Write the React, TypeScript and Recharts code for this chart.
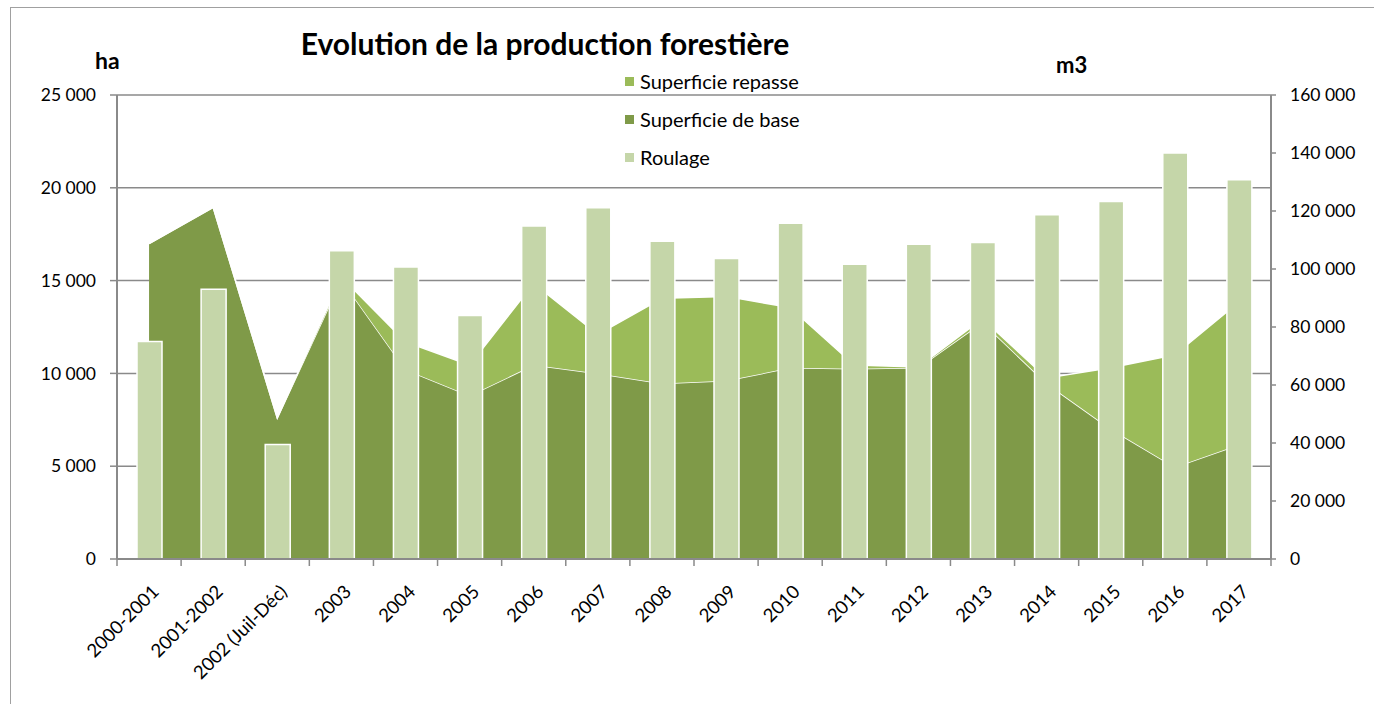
import React from 'react';
import {
  ComposedChart,
  Area,
  Bar,
  XAxis,
  YAxis,
  CartesianGrid,
  Legend,
} from 'recharts';

const categories = [
  '2000-2001', '2001-2002', '2002 (Juil-Déc)', '2003', '2004', '2005', '2006', '2007', '2008',
  '2009', '2010', '2011', '2012', '2013', '2014', '2015', '2016', '2017',
];

// ha
const superficieBase = [
  17000, 18950, 7600, 15050, 10200, 8800, 10450, 10000, 9450,
  9600, 10300, 10250, 10300, 12750, 9450, 7000, 4950, 6150,
];
const superficieRepasse = [
  0, 0, 0, 150, 1500, 1650, 4400, 2100, 4600,
  4550, 3250, 200, 50, 200, 300, 3300, 6050, 7700,
];

// m3
const roulage = [
  75000, 93000, 39500, 106300, 100700, 84000, 114800, 121100, 109600,
  103600, 115800, 101600, 108500, 109100, 118700, 123300, 140000, 130800,
];

const leftTicks = [0, 5000, 10000, 15000, 20000, 25000];
const rightTicks = [0, 20000, 40000, 60000, 80000, 100000, 120000, 140000, 160000];

const legendOrder = ['repasse', 'base', 'roulage'];

const data = categories.map((cat, i) => ({
  cat,
  base: superficieBase[i],
  repasse: superficieRepasse[i],
  roulage: roulage[i],
}));

const COLORS: Record<string, string> = {
  base: '#7f9a48',
  repasse: '#9bbb59',
  roulage: '#c5d6a9',
};

const AXIS = '#8a8a8a';
const PLOT_LEFT = 117;
const PLOT_RIGHT = 1271;
const HALF_BAND = (PLOT_RIGHT - PLOT_LEFT) / categories.length / 2;

const fmt = (v: number) => String(v).replace(/\B(?=(\d{3})+(?!\d))/g, ' ');

const XTick = (props: any) => {
  const { x, y, payload, index } = props;
  const tx = x + 11;
  const ty = y + 34;
  return (
    <g>
      <line x1={x - HALF_BAND} x2={x - HALF_BAND} y1={y} y2={y + 7} stroke={AXIS} strokeWidth={1.5} />
      {index === categories.length - 1 && (
        <line x1={x + HALF_BAND} x2={x + HALF_BAND} y1={y} y2={y + 7} stroke={AXIS} strokeWidth={1.5} />
      )}
      <text x={tx} y={ty} textAnchor="end" fontSize={18.5} fill="#000" transform={`rotate(-45 ${tx} ${ty})`}>
        {payload.value}
      </text>
    </g>
  );
};

const LegendContent = (props: any) => {
  const items = [...(props.payload || [])].sort(
    (a: any, b: any) => legendOrder.indexOf(a.dataKey) - legendOrder.indexOf(b.dataKey)
  );
  return (
    <div>
      {items.map((it: any) => (
        <div key={it.dataKey} style={{ height: 38, lineHeight: '38px', display: 'flex', alignItems: 'center', fontSize: 20, color: '#000' }}>
          <span style={{ width: 9, height: 9, background: COLORS[it.dataKey], marginRight: 6, display: 'inline-block' }} />
          {it.value}
        </div>
      ))}
    </div>
  );
};

export default function App() {
  return (
    <div style={{ position: 'absolute', left: 0, top: 0, width: 1374, height: 704, overflow: 'hidden', background: '#fff', fontFamily: 'Lato, sans-serif' }}>
      <div style={{ position: 'absolute', left: 10, top: 7, width: 1400, height: 760, border: '1px solid #a0a0a0' }} />
      <div style={{ position: 'absolute', left: 245, top: 25, width: 600, textAlign: 'center', fontSize: 30, fontWeight: 700, lineHeight: '36px' }}>
        Evolution de la production forestière
      </div>
      <div style={{ position: 'absolute', left: 95, top: 46, fontSize: 23, fontWeight: 700 }}>ha</div>
      <div style={{ position: 'absolute', left: 1056, top: 51, fontSize: 22, fontWeight: 700 }}>m3</div>
      <ComposedChart
        width={1374}
        height={704}
        data={data}
        margin={{ top: 95, right: 1374 - PLOT_RIGHT - 80, left: PLOT_LEFT - 100, bottom: 15 }}
      >
        <CartesianGrid yAxisId="left" vertical={false} stroke={AXIS} strokeWidth={1.5} />
        <XAxis
          dataKey="cat"
          interval={0}
          height={130}
          tickSize={0}
          tickMargin={0}
          tickLine={false}
          tick={<XTick />}
          axisLine={{ stroke: AXIS, strokeWidth: 2 }}
        />
        <YAxis
          yAxisId="left"
          width={100}
          domain={[0, 25000]}
          ticks={leftTicks}
          tickFormatter={fmt}
          tickSize={7}
          tickMargin={14}
          tick={{ fill: '#000', fontSize: 17.5 }}
          tickLine={{ stroke: AXIS, strokeWidth: 1.5 }}
          axisLine={{ stroke: AXIS, strokeWidth: 2 }}
        />
        <YAxis
          yAxisId="right"
          orientation="right"
          width={80}
          domain={[0, 160000]}
          ticks={rightTicks}
          tickFormatter={fmt}
          tickSize={5}
          tickMargin={14}
          tick={{ fill: '#000', fontSize: 17.5 }}
          tickLine={{ stroke: AXIS, strokeWidth: 1.5 }}
          axisLine={{ stroke: AXIS, strokeWidth: 2 }}
        />
        <Legend
          layout="vertical"
          align="center"
          verticalAlign="middle"
          content={<LegendContent />}
          wrapperStyle={{ left: 625, top: 62, width: 260 }}
        />
        <Area
          yAxisId="left"
          type="linear"
          dataKey="base"
          name="Superficie de base"
          stackId="s"
          fill={COLORS.base}
          fillOpacity={1}
          stroke="#fff"
          strokeWidth={1.5}
          dot={false}
          activeDot={false}
          isAnimationActive={false}
        />
        <Area
          yAxisId="left"
          type="linear"
          dataKey="repasse"
          name="Superficie repasse"
          stackId="s"
          fill={COLORS.repasse}
          fillOpacity={1}
          stroke="#fff"
          strokeWidth={1.5}
          dot={false}
          activeDot={false}
          isAnimationActive={false}
        />
        <Bar
          yAxisId="right"
          dataKey="roulage"
          name="Roulage"
          barSize={25}
          fill={COLORS.roulage}
          stroke="#fff"
          strokeWidth={1.5}
          isAnimationActive={false}
        />
      </ComposedChart>
    </div>
  );
}
